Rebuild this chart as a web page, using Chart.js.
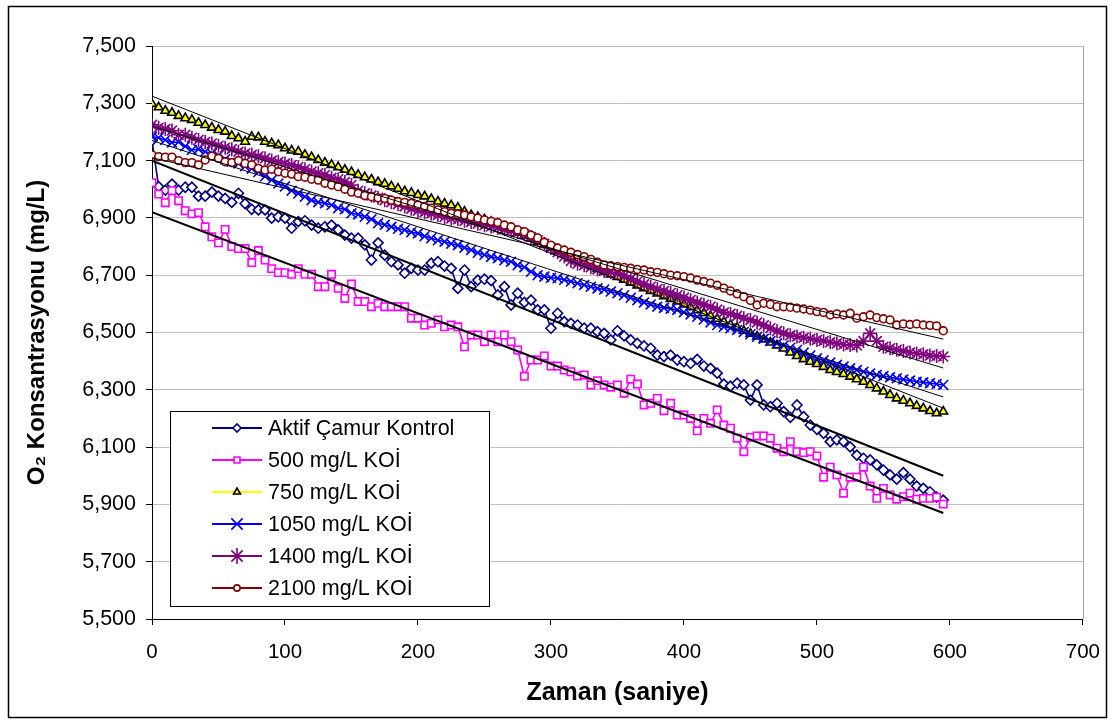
<!DOCTYPE html>
<html>
<head>
<meta charset="utf-8">
<title>O2 Konsantrasyonu</title>
<script src="https://cdn.jsdelivr.net/npm/chart.js@4.4.0/dist/chart.umd.min.js"></script>
<style>
  html, body { margin: 0; padding: 0; background: #fff; }
</style>
</head>
<body>
<canvas id="chart" width="1115" height="724"></canvas>
<script>
// zaman (saniye)
var zaman = [
  0, 5, 10, 15, 20, 25, 30, 35, 40, 45,
  50, 55, 60, 65, 70, 75, 80, 85, 90, 95,
  100, 105, 110, 115, 120, 125, 130, 135, 140, 145,
  150, 155, 160, 165, 170, 175, 180, 185, 190, 195,
  200, 205, 210, 215, 220, 225, 230, 235, 240, 245,
  250, 255, 260, 265, 270, 275, 280, 285, 290, 295,
  300, 305, 310, 315, 320, 325, 330, 335, 340, 345,
  350, 355, 360, 365, 370, 375, 380, 385, 390, 395,
  400, 405, 410, 415, 420, 425, 430, 435, 440, 445,
  450, 455, 460, 465, 470, 475, 480, 485, 490, 495,
  500, 505, 510, 515, 520, 525, 530, 535, 540, 545,
  550, 555, 560, 565, 570, 575, 580, 585, 590, 595
];

var aktifKontrol = [
  7.17, 7.009, 6.997, 7.018, 6.997, 7.007, 7.007, 6.976, 6.976, 6.99,
  6.976, 6.968, 6.954, 6.986, 6.95, 6.93, 6.928, 6.928, 6.899, 6.904,
  6.899, 6.864, 6.887, 6.89, 6.875, 6.864, 6.869, 6.875, 6.858, 6.84,
  6.829, 6.829, 6.806, 6.753, 6.813, 6.77, 6.747, 6.736, 6.707, 6.724,
  6.718, 6.718, 6.742, 6.747, 6.732, 6.724, 6.654, 6.718, 6.66, 6.683,
  6.686, 6.681, 6.631, 6.66, 6.596, 6.637, 6.605, 6.613, 6.579, 6.579,
  6.515, 6.567, 6.538, 6.532, 6.526, 6.515, 6.515, 6.503, 6.497, 6.474,
  6.506, 6.488, 6.474, 6.462, 6.453, 6.445, 6.421, 6.416, 6.421, 6.404,
  6.398, 6.392, 6.406, 6.383, 6.375, 6.358, 6.32, 6.313, 6.323, 6.317,
  6.264, 6.317, 6.247, 6.241, 6.253, 6.224, 6.204, 6.247, 6.206, 6.177,
  6.162, 6.148, 6.119, 6.125, 6.119, 6.101, 6.072, 6.061, 6.055, 6.038,
  6.02, 6.003, 5.988, 6.011, 5.988, 5.964, 5.956, 5.944, 5.925, 5.915
];

var koi500 = [
  7.023, 6.983, 6.953, 6.995, 6.96, 6.925, 6.914, 6.918, 6.869, 6.834,
  6.813, 6.86, 6.80, 6.793, 6.793, 6.744, 6.786, 6.753, 6.723, 6.709,
  6.709, 6.703, 6.723, 6.703, 6.703, 6.66, 6.66, 6.703, 6.654, 6.619,
  6.669, 6.608, 6.608, 6.59, 6.602, 6.59, 6.59, 6.59, 6.59, 6.55,
  6.55, 6.526, 6.532, 6.544, 6.52, 6.526, 6.52, 6.45, 6.491, 6.491,
  6.468, 6.491, 6.468, 6.491, 6.468, 6.439, 6.347, 6.404, 6.404, 6.418,
  6.383, 6.383, 6.369, 6.363, 6.348, 6.352, 6.317, 6.332, 6.317, 6.309,
  6.317, 6.288, 6.337, 6.32, 6.247, 6.253, 6.27, 6.227, 6.253, 6.212,
  6.212, 6.20, 6.157, 6.20, 6.183, 6.23, 6.177, 6.166, 6.131, 6.084,
  6.134, 6.139, 6.139, 6.131, 6.096, 6.084, 6.119, 6.084, 6.081, 6.084,
  6.069, 5.995, 6.03, 6.003, 5.939, 5.995, 5.995, 6.03, 5.964, 5.921,
  5.956, 5.933, 5.918, 5.927, 5.939, 5.918, 5.921, 5.921, 5.925, 5.901
];

var koi750 = [
  7.298, 7.286, 7.274, 7.267, 7.256, 7.248, 7.242, 7.232, 7.224, 7.215,
  7.207, 7.201, 7.186, 7.178, 7.166, 7.183, 7.181, 7.166, 7.16, 7.154,
  7.143, 7.135, 7.131, 7.12, 7.112, 7.102, 7.093, 7.085, 7.077, 7.068,
  7.06, 7.05, 7.042, 7.034, 7.025, 7.019, 7.01, 7.002, 6.993, 6.987,
  6.98, 6.975, 6.966, 6.957, 6.95, 6.944, 6.936, 6.922, 6.91, 6.903,
  6.895, 6.886, 6.877, 6.867, 6.858, 6.848, 6.838, 6.828, 6.817, 6.806,
  6.795, 6.785, 6.774, 6.763, 6.752, 6.742, 6.732, 6.722, 6.712, 6.703,
  6.694, 6.684, 6.674, 6.664, 6.655, 6.645, 6.636, 6.627, 6.617, 6.608,
  6.598, 6.588, 6.578, 6.568, 6.558, 6.548, 6.538, 6.527, 6.517, 6.506,
  6.496, 6.486, 6.476, 6.465, 6.455, 6.444, 6.43, 6.418, 6.407, 6.398,
  6.39, 6.38, 6.369, 6.362, 6.355, 6.346, 6.337, 6.328, 6.317, 6.305,
  6.294, 6.282, 6.27, 6.262, 6.253, 6.244, 6.235, 6.226, 6.218, 6.224
];

var koi1050 = [
  7.183, 7.18, 7.172, 7.163, 7.165, 7.15, 7.137, 7.14, 7.131, 7.125,
  7.118, 7.105, 7.096, 7.09, 7.08, 7.072, 7.06, 7.045, 7.032, 7.02,
  7.01, 6.995, 6.985, 6.974, 6.962, 6.955, 6.951, 6.945, 6.934, 6.93,
  6.916, 6.912, 6.904, 6.895, 6.881, 6.876, 6.869, 6.862, 6.858, 6.85,
  6.846, 6.836, 6.829, 6.822, 6.817, 6.81, 6.805, 6.796, 6.788, 6.778,
  6.771, 6.764, 6.759, 6.752, 6.747, 6.735, 6.728, 6.712, 6.70, 6.695,
  6.691, 6.689, 6.684, 6.678, 6.672, 6.666, 6.66, 6.654, 6.65, 6.643,
  6.637, 6.63, 6.621, 6.613, 6.605, 6.598, 6.59, 6.586, 6.583, 6.579,
  6.571, 6.563, 6.555, 6.545, 6.535, 6.526, 6.52, 6.515, 6.509, 6.502,
  6.494, 6.485, 6.478, 6.47, 6.462, 6.455, 6.447, 6.439, 6.43, 6.42,
  6.41, 6.403, 6.395, 6.387, 6.381, 6.375, 6.369, 6.363, 6.357, 6.352,
  6.348, 6.344, 6.34, 6.336, 6.332, 6.328, 6.326, 6.323, 6.32, 6.317
];

var koi1400 = [
  7.225, 7.215, 7.21, 7.205, 7.19, 7.19, 7.18, 7.172, 7.165, 7.16,
  7.152, 7.145, 7.14, 7.131, 7.125, 7.12, 7.115, 7.108, 7.10, 7.095,
  7.09, 7.085, 7.078, 7.07, 7.062, 7.056, 7.05, 7.04, 7.035, 7.025,
  7.015, 6.995, 6.986, 6.978, 6.97, 6.962, 6.955, 6.948, 6.94, 6.932,
  6.925, 6.92, 6.915, 6.91, 6.903, 6.898, 6.895, 6.89, 6.886, 6.88,
  6.874, 6.87, 6.866, 6.86, 6.855, 6.85, 6.843, 6.833, 6.822, 6.81,
  6.795, 6.78, 6.765, 6.75, 6.74, 6.735, 6.728, 6.72, 6.715, 6.71,
  6.707, 6.698, 6.688, 6.678, 6.668, 6.66, 6.652, 6.645, 6.638, 6.63,
  6.622, 6.613, 6.605, 6.597, 6.59, 6.58, 6.57, 6.565, 6.558, 6.55,
  6.544, 6.535, 6.525, 6.515, 6.505, 6.497, 6.49, 6.486, 6.482, 6.478,
  6.474, 6.47, 6.466, 6.462, 6.458, 6.456, 6.455, 6.47, 6.497, 6.47,
  6.45, 6.445, 6.44, 6.435, 6.43, 6.427, 6.424, 6.42, 6.418, 6.416
];

var koi2100 = [
  7.12, 7.114, 7.112, 7.112, 7.10, 7.093, 7.093, 7.085, 7.102, 7.116,
  7.108, 7.096, 7.093, 7.10, 7.09, 7.085, 7.073, 7.067, 7.07, 7.061,
  7.056, 7.053, 7.044, 7.042, 7.035, 7.032, 7.021, 7.015, 7.009, 7.0,
  6.99, 6.986, 6.978, 6.974, 6.97, 6.968, 6.962, 6.957, 6.954, 6.951,
  6.945, 6.94, 6.934, 6.928, 6.922, 6.916, 6.913, 6.91, 6.904, 6.899,
  6.893, 6.888, 6.884, 6.875, 6.869, 6.858, 6.852, 6.84, 6.83, 6.815,
  6.805, 6.795, 6.788, 6.78, 6.772, 6.765, 6.755, 6.745, 6.736, 6.733,
  6.73, 6.727, 6.724, 6.72, 6.718, 6.712, 6.71, 6.705, 6.70, 6.698,
  6.695, 6.69, 6.683, 6.678, 6.672, 6.665, 6.655, 6.645, 6.635, 6.625,
  6.612, 6.596, 6.602, 6.598, 6.59, 6.59, 6.588, 6.585, 6.582, 6.578,
  6.573, 6.57, 6.561, 6.565, 6.561, 6.567, 6.55, 6.555, 6.561, 6.552,
  6.548, 6.544, 6.526, 6.53, 6.528, 6.53, 6.526, 6.525, 6.523, 6.506
];

// trend lines (start at x=0, end at x=595), same order as the series
var trendX = [0, 595];
var trendStart = [7.10, 6.92, 7.325, 7.17, 7.22, 7.11];
var trendEnd = [6.00, 5.87, 6.236, 6.275, 6.376, 6.477];

var seriesNames = ["Aktif Çamur Kontrol", "500 mg/L KOİ", "750 mg/L KOİ",
                   "1050 mg/L KOİ", "1400 mg/L KOİ", "2100 mg/L KOİ"];
var seriesValues = [aktifKontrol, koi500, koi750, koi1050, koi1400, koi2100];

var lineColors = ["#000080", "#FF00FF", "#FFFF00", "#0000FF", "#800080", "#800000"];
var markerBorders = ["#000080", "#FF00FF", "#000000", "#0000FF", "#800080", "#800000"];
var markerFills = ["#ffffff", "#ffffff", "#FFFF00", "#0000FF", "#800080", "#ffffff"];
var markerStyles = ["rectRot", "rect", "triangle", "crossRot", "star", "circle"];
var markerSizes = [5, 5.2, 5, 7, 7, 3.9];
var trendWidths = [2, 2, 1, 1, 1, 1];

var FONT = "'Liberation Sans', Arial, sans-serif";
Chart.defaults.font.family = FONT;
Chart.defaults.color = "#000";

function points(xs, ys) {
    var out = [];
    for (var i = 0; i < ys.length; i++) out.push({x: xs[i], y: ys[i]});
    return out;
}

var datasets = [];
for (var s = 0; s < seriesValues.length; s++) {
    datasets.push({
        label: seriesNames[s],
        data: points(zaman, seriesValues[s]),
        showLine: true,
        borderColor: lineColors[s],
        borderWidth: 1.6,
        pointStyle: markerStyles[s],
        pointRadius: markerSizes[s],
        pointBorderColor: markerBorders[s],
        pointBackgroundColor: markerFills[s],
        pointBorderWidth: 1.6,
        order: 6 - s
    });
}
for (var t = 0; t < trendStart.length; t++) {
    datasets.push({
        label: "trend" + t,
        data: points(trendX, [trendStart[t], trendEnd[t]]),
        showLine: true,
        borderColor: "#000",
        borderWidth: trendWidths[t],
        pointRadius: 0,
        order: 0
    });
}

// frame, right plot edge and the boxed legend inside the plot
var framePlugin = {
    id: "frame",
    beforeDraw: function (chart) {
        var ctx = chart.ctx;
        ctx.save();
        ctx.fillStyle = "#fff";
        ctx.fillRect(0, 0, chart.width, chart.height);
        ctx.restore();
    },
    beforeDatasetsDraw: function (chart) {
        var ctx = chart.ctx, a = chart.chartArea;
        ctx.save();
        ctx.strokeStyle = "#a0a0a0";
        ctx.lineWidth = 1;
        ctx.beginPath();
        ctx.moveTo(Math.round(a.right) + 0.5, a.top);
        ctx.lineTo(Math.round(a.right) + 0.5, a.bottom);
        ctx.stroke();
        ctx.restore();
    },
    afterDraw: function (chart) {
        var ctx = chart.ctx;
        ctx.save();
        ctx.strokeStyle = "#000";
        ctx.lineWidth = 1.5;
        ctx.strokeRect(8.5, 6.5, 1098, 711);

        // legend
        var bx = 170.5, by = 411.5, bw = 319, bh = 195;
        ctx.fillStyle = "#fff";
        ctx.fillRect(bx, by, bw, bh);
        ctx.lineWidth = 1;
        ctx.strokeRect(bx, by, bw, bh);
        ctx.font = "21.5px " + FONT;
        ctx.textBaseline = "middle";
        ctx.textAlign = "left";
        for (var i = 0; i < seriesNames.length; i++) {
            var ds = chart.data.datasets[i];
            var y = 428 + i * 32;
            ctx.strokeStyle = ds.borderColor;
            ctx.lineWidth = 2;
            ctx.beginPath();
            ctx.moveTo(212, y);
            ctx.lineTo(262, y);
            ctx.stroke();
            ctx.fillStyle = ds.pointBackgroundColor;
            ctx.strokeStyle = ds.pointBorderColor;
            ctx.lineWidth = 1.6;
            Chart.helpers.drawPoint(ctx, {
                pointStyle: ds.pointStyle,
                radius: ds.pointStyle === "crossRot" || ds.pointStyle === "star" ? 8 : ds.pointRadius * 0.8,
                rotation: 0,
                borderWidth: 1.6
            }, 237, y);
            ctx.fillStyle = "#000";
            ctx.fillText(ds.label, 268, y + 1);
        }
        ctx.restore();
    }
};

var ctx = document.getElementById("chart").getContext("2d");
var chart = new Chart(ctx, {
    type: "scatter",
    data: {datasets: datasets},
    plugins: [framePlugin],
    options: {
        responsive: false,
        animation: false,
        layout: {padding: {top: 46, right: 30, left: 0, bottom: 0}},
        plugins: {
            legend: {display: false},
            tooltip: {enabled: false}
        },
        scales: {
            x: {
                type: "linear",
                min: 0,
                max: 700,
                afterFit: function (scale) { scale.height = 105; },
                ticks: {
                    stepSize: 100,
                    padding: 15,
                    font: {size: 20.5},
                    color: "#000"
                },
                grid: {
                    drawOnChartArea: false,
                    drawTicks: true,
                    tickLength: 6,
                    tickColor: "#000"
                },
                border: {color: "#000", width: 1},
                title: {
                    display: true,
                    text: "Zaman (saniye)",
                    font: {size: 25, weight: "bold"},
                    color: "#000",
                    padding: {top: 0, bottom: 16}
                }
            },
            y: {
                min: 5.5,
                max: 7.5,
                afterFit: function (scale) { scale.width = 152; },
                ticks: {
                    stepSize: 0.2,
                    padding: 10,
                    font: {size: 21.5},
                    color: "#000",
                    callback: function (v) { return v.toFixed(3).replace(".", ","); }
                },
                grid: {
                    color: "#c0c0c0",
                    lineWidth: 1,
                    tickLength: 6,
                    tickColor: "#000"
                },
                border: {color: "#000", width: 1},
                title: {
                    display: true,
                    text: "O₂ Konsantrasyonu (mg/L)",
                    font: {size: 24, weight: "bold"},
                    color: "#000",
                    padding: {top: 23, bottom: 0}
                }
            }
        }
    }
});
</script>
</body>
</html>
